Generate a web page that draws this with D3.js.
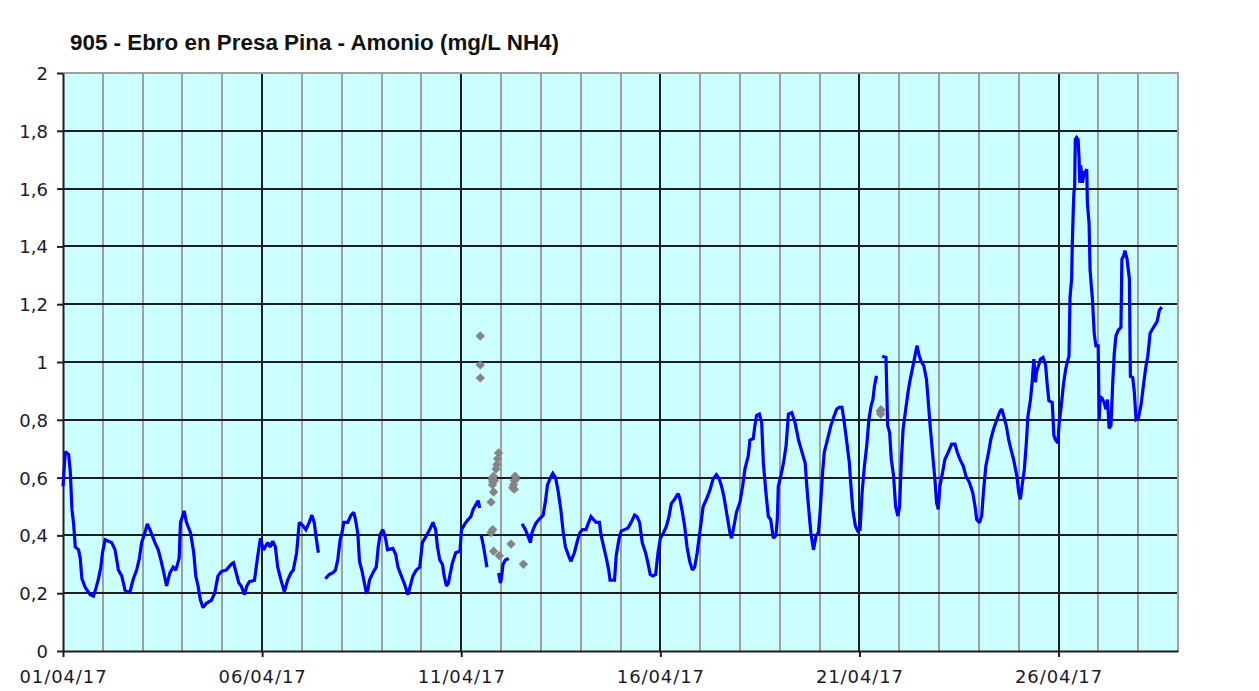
<!DOCTYPE html>
<html>
<head>
<meta charset="utf-8">
<script src="https://cdn.jsdelivr.net/npm/d3@7"></script>
<style>
  html, body { margin: 0; padding: 0; background: #ffffff; }
  svg { display: block; }
</style>
</head>
<body>
<svg id="chart" width="1259" height="691"></svg>
<script>
// ---------- DATA ----------
const chartTitle = "905 - Ebro en Presa Pina - Amonio (mg/L NH4)";
const startUTC = Date.UTC(2017, 3, 1);   // 01/04/17 00:00
const endUTC = Date.UTC(2017, 3, 29);    // 29/04/17 00:00

// hours since 01/04/17 00:00 ; null value = gap in the series
const lineHours = [
  0,1.4,3.4,4.4,5.4,6.4,7.4,9.4,10.4,11.4,13.4,16.4,18.4,20,21.4,22.8,23.8,25.4,27.4,29.4,
  31.4,33.4,35.4,37.4,40.4,42.4,44.4,46,47.4,49.4,50.8,52.4,55.4,57.4,58.8,60.8,62.4,64.4,66.4,68,
  70,70.8,72,73,74.4,76.8,78.8,80,81.4,82.8,84.4,86.4,89.4,91.4,93.4,95.4,98.4,101.4,102.8,104.4,
  106,107.4,109.4,110.8,112.4,115.4,117.4,119,120.8,123.4,124.8,126.4,128,129.4,131.4,133.4,135.4,137.4,138.8,140.8,
  142.4,144.4,146.4,148.4,150,151.4,152.4,153.9,156,
  158.1,160.5,162.5,164.2,165.6,167,168.2,169.2,171.6,173.6,175.2,176.3,177.7,178.7,180.3,181.3,182.7,183.7,184.7,186.7,
  188.8,190,191.2,192.8,194.4,195.6,198.8,200.5,201.9,203.9,205.9,207.9,209.3,210.9,212.9,215,216.6,218.6,221,223,
  224.6,225.7,227.1,228.7,229.7,231.1,232.3,233.1,234.7,236.7,239.2,240.2,242.2,244.2,245.8,247.2,249.2,250.3,251.1,251.6,
  252.1,253.5,254.5,255.5,259,
  262.6,263.6,264.2,265.2,266.6,268.6,272,
  276.7,278.7,280.1,281.7,282.7,284.8,286.8,289.4,290.8,292,293.8,295.2,296.9,298.5,300,301.5,302.8,304.7,306.1,308.2,
  310.2,311.6,313.2,315.2,316.8,318.2,319.7,321.3,323.3,324.3,326.3,327.7,328.9,329.7,332.4,333.4,335,336.4,338.4,340.4,
  342.4,344.5,345.9,347.5,349.1,351.1,352.5,353.9,355.5,357.2,358.6,360,362,363.6,365.2,366.6,368.6,370.7,371.7,373.3,
  374.7,376.1,377.7,379.3,380.7,382.2,383.8,385.8,387.8,389.8,391.8,393.8,395.5,396.9,398.3,399.9,401.9,402.9,404.3,405.9,
  408,409.6,411,413,414,416,417,418,419.7,421.1,422.1,423.7,425.1,426.5,428.1,429.7,430.5,431.1,432.6,434.2,
  435.8,437.2,439.2,441.2,443.3,445.3,447.3,448.3,449.3,450.7,452.3,453.9,455.3,456.3,457.8,458.8,460.8,462.8,464.8,466.3,
  467.9,469.5,470.3,471.9,473.9,474.9,476,477.6,479,480.4,481.6,483,484.4,485.7,487.1,488.1,489.1,490.1,491.1,492.4,
  493.7,496,497,498.2,499.2,500.6,501.8,503.2,504.2,505.3,506.3,507.9,509.3,510.3,511.9,513.3,514.7,516,517.4,518.8,
  520.4,521.4,522.8,524.4,525.5,526.5,527.5,528.5,530.1,531.5,533.5,535.6,537.6,539,540.6,542.6,544.2,546.3,548.3,549.7,
  550.7,552.3,553.7,554.7,556.2,557.8,559.2,560.8,562.8,564.8,565.9,566.9,568.5,569.9,571.3,572.9,574.9,576,577,578,
  579.4,580.6,581.5,583.1,584.1,585.1,586.1,586.7,588.1,589.1,590.7,592.2,593.2,594.2,596.2,597.2,598.2,599.6,600.4,601.7,
  602.9,604.3,605.3,606.3,606.9,607.9,608.3,608.9,609.3,609.7,610.1,610.9,611.8,612.4,612.8,613.4,614.4,615.4,616.4,617,
  617.4,618.4,619,619.8,620.4,621.5,622.5,623.9,624.5,625.1,626.1,627.5,628.5,629.5,630.5,631.6,632.6,633.6,634.6,636,
  637.6,638.2,639.2,640,641.3,642.7,643.3,644.7,645.7,646.7,648.1,649.7,651.4,652.8,653.8,655.2,656.2,657.8,659.4,660.8,
  662.3
];
const lineValues = [
  0.57,0.69,0.68,0.62,0.49,0.44,0.36,0.35,0.32,0.25,0.22,0.195,0.19,0.22,0.25,0.29,0.34,0.385,0.38,0.375,
  0.35,0.28,0.26,0.21,0.205,0.25,0.28,0.32,0.375,0.41,0.44,0.42,0.375,0.35,0.32,0.27,0.225,0.27,0.29,0.28,
  0.32,0.445,0.465,0.485,0.445,0.41,0.34,0.26,0.225,0.177,0.15,0.165,0.175,0.2,0.26,0.275,0.28,0.3,0.305,0.27,
  0.235,0.225,0.195,0.225,0.24,0.245,0.33,0.39,0.35,0.375,0.36,0.38,0.36,0.29,0.245,0.205,0.245,0.27,0.28,0.34,
  0.445,0.435,0.42,0.445,0.47,0.445,0.4,0.34,null,
  0.25,0.265,0.27,0.28,0.315,0.385,0.41,0.445,0.445,0.47,0.48,0.455,0.405,0.31,0.275,0.245,0.205,0.21,0.245,0.27,
  0.29,0.36,0.405,0.42,0.39,0.35,0.355,0.335,0.29,0.26,0.23,0.195,0.225,0.26,0.28,0.29,0.375,0.395,0.42,0.445,
  0.42,0.36,0.315,0.3,0.26,0.225,0.235,0.26,0.305,0.34,0.345,0.42,0.44,0.455,0.465,0.49,0.51,0.52,0.495,null,
  0.4,0.36,0.325,0.29,null,
  0.27,0.235,0.25,0.3,0.315,0.32,null,
  0.44,0.42,0.4,0.375,0.41,0.44,0.455,0.47,0.52,0.575,0.6,0.615,0.6,0.55,0.49,0.41,0.36,0.33,0.31,0.34,
  0.385,0.41,0.42,0.42,0.445,0.465,0.455,0.445,0.445,0.4,0.35,0.315,0.28,0.245,0.245,0.33,0.385,0.415,0.42,0.425,
  0.445,0.47,0.465,0.445,0.375,0.34,0.305,0.265,0.26,0.265,0.34,0.39,0.41,0.43,0.465,0.51,0.525,0.545,0.53,0.48,
  0.43,0.36,0.31,0.28,0.29,0.34,0.41,0.5,0.525,0.555,0.595,0.61,0.595,0.57,0.535,0.48,0.41,0.39,0.43,0.48,
  0.515,0.57,0.63,0.675,0.73,0.735,0.78,0.815,0.82,0.79,0.65,0.545,0.465,0.455,0.39,0.4,0.455,0.57,0.605,0.65,
  0.71,0.82,0.825,0.79,0.73,0.69,0.65,0.57,0.5,0.41,0.35,0.4,0.41,0.48,0.617,0.687,0.733,0.78,0.814,0.837,
  0.843,0.843,0.814,0.745,0.652,0.57,0.49,0.432,0.415,0.42,0.548,0.64,0.71,0.8,0.85,0.87,0.918,0.947,0.947,null,
  1.02,1.016,0.78,0.756,0.663,0.605,0.5,0.467,0.5,0.663,0.767,0.837,0.895,0.93,0.976,1.016,1.057,1.022,1.0,0.987,
  0.94,0.87,0.767,0.663,0.594,0.513,0.49,0.571,0.617,0.663,0.687,0.716,0.716,0.687,0.663,0.64,0.605,0.583,0.548,0.5,
  0.455,0.444,0.467,0.548,0.64,0.687,0.733,0.767,0.8,0.83,0.837,0.814,0.78,0.733,0.698,0.663,0.605,0.548,0.525,0.571,
  0.629,0.72,0.81,0.87,0.93,1.01,0.93,0.965,0.99,1.01,1.016,0.99,0.92,0.866,0.86,0.745,0.73,0.72,0.79,0.85,
  0.92,0.975,1.0,1.02,1.22,1.29,1.41,1.53,1.59,1.6,1.77,1.777,1.77,1.7,1.62,1.68,1.62,1.655,1.66,1.667,
  1.55,1.48,1.32,1.26,1.22,1.1,1.056,1.056,0.8,0.88,0.875,0.86,0.837,0.87,0.77,0.78,0.92,1.03,1.09,1.11,
  1.12,1.356,1.367,1.385,1.356,1.287,0.95,0.946,0.895,0.8,0.805,0.85,0.93,0.99,1.02,1.1,1.11,1.125,1.14,1.18,
  1.19
];

// grey diamond points (second series)
const dotHours = [251.5,251.5,251.5,262.5,262,261.5,261,259.5,258.5,259,260,258.8,259.5,258,259,258,259.5,263,270,
  272.5,272,271.5,271,272,273,277.5,492.5,492.8,493];
const dotValues = [1.09,0.99,0.945,0.685,0.665,0.645,0.63,0.605,0.595,0.585,0.59,0.575,0.55,0.515,0.42,0.41,0.345,0.33,0.37,
  0.605,0.59,0.575,0.565,0.56,0.595,0.3,0.83,0.82,0.835];

const xMajorDays = [0, 5, 10, 15, 20, 25];
const xTickLabels = ["01/04/17", "06/04/17", "11/04/17", "16/04/17", "21/04/17", "26/04/17"];
const yTickValues = [0, 0.2, 0.4, 0.6, 0.8, 1, 1.2, 1.4, 1.6, 1.8, 2];
const yTickLabels = ["0", "0,2", "0,4", "0,6", "0,8", "1", "1,2", "1,4", "1,6", "1,8", "2"];

// ---------- LAYOUT ----------
const W = 1259, H = 691;
const L = 63, R = 1178, T = 73, B = 651;
const HOUR = 3600 * 1000, DAY = 24 * HOUR;

const svg = d3.select("#chart");
const x = d3.scaleUtc().domain([new Date(startUTC), new Date(endUTC)]).range([L, R]);
const y = d3.scaleLinear().domain([0, 2]).range([B, T]);

const toDate = h => new Date(startUTC + h * HOUR);
const lineData = lineHours.map((h, i) => ({ t: toDate(h), v: lineValues[i] }));
const dotData = dotHours.map((h, i) => ({ t: toDate(h), v: dotValues[i] }));

// plot background
svg.append("rect").attr("x", L).attr("y", T).attr("width", R - L).attr("height", B - T)
  .attr("fill", "#ccffff");

// minor vertical grid (each day)
const allDays = d3.range(1, 28).filter(d => !xMajorDays.includes(d)).map(d => new Date(startUTC + d * DAY));
svg.append("g").selectAll("line").data(allDays).join("line")
  .attr("x1", d => Math.round(x(d))).attr("x2", d => Math.round(x(d)))
  .attr("y1", T).attr("y2", B)
  .attr("stroke", "#a0a0a0").attr("stroke-width", 2);

// horizontal grid
svg.append("g").selectAll("line").data(yTickValues.filter(v => v > 0 && v < 2)).join("line")
  .attr("x1", L).attr("x2", R)
  .attr("y1", d => Math.round(y(d))).attr("y2", d => Math.round(y(d)))
  .attr("stroke", "#1e1e1e").attr("stroke-width", 2);

// major vertical grid
svg.append("g").selectAll("line").data(xMajorDays.filter(d => d > 0).map(d => new Date(startUTC + d * DAY))).join("line")
  .attr("x1", d => Math.round(x(d))).attr("x2", d => Math.round(x(d)))
  .attr("y1", T).attr("y2", B)
  .attr("stroke", "#1e1e1e").attr("stroke-width", 2);

// top & right border (grey)
svg.append("path")
  .attr("d", `M${L},${T}H${R}V${B}`)
  .attr("fill", "none").attr("stroke", "#a0a0a0").attr("stroke-width", 2);

// axes
const xAxis = d3.axisBottom(x)
  .tickValues(xMajorDays.map(d => new Date(startUTC + d * DAY)))
  .tickFormat((d, i) => xTickLabels[i])
  .tickSize(6).tickSizeOuter(0).tickPadding(13);
const gx = svg.append("g").attr("transform", `translate(0,${B})`).call(xAxis);

const yAxis = d3.axisLeft(y)
  .tickValues(yTickValues)
  .tickFormat((d, i) => yTickLabels[i])
  .tickSize(6).tickSizeOuter(0).tickPadding(9);
const gy = svg.append("g").attr("transform", `translate(${L},0)`).call(yAxis);

[gx, gy].forEach(g => {
  g.select(".domain").attr("stroke", "#1e1e1e").attr("stroke-width", 2);
  g.selectAll(".tick line").attr("stroke", "#1e1e1e").attr("stroke-width", 2);
  g.selectAll(".tick text")
    .attr("fill", "#1a1a2a")
    .style("font-family", "'DejaVu Sans', Verdana, sans-serif")
    .style("font-size", "18px");
});
gx.selectAll(".tick text").style("letter-spacing", "0.9px");
gy.selectAll(".tick text").attr("dy", "0.36em");

// line series
const line = d3.line()
  .defined(d => d.v != null)
  .x(d => x(d.t)).y(d => y(d.v))
  .curve(d3.curveLinear);
svg.append("path").datum(lineData)
  .attr("d", line)
  .attr("fill", "none").attr("stroke", "#0000ff").attr("stroke-width", 3.2)
  .attr("stroke-linejoin", "miter").attr("stroke-miterlimit", 2);

// grey diamonds
const diamond = d3.symbol().type(d3.symbolSquare).size(44);
svg.append("g").selectAll("path").data(dotData).join("path")
  .attr("d", diamond)
  .attr("transform", d => `translate(${x(d.t)},${y(d.v)}) rotate(45)`)
  .attr("fill", "#858585");

// title
svg.append("text")
  .attr("x", 70).attr("y", 50)
  .style("font-family", "'Liberation Sans', Arial, sans-serif")
  .style("font-weight", "bold")
  .style("font-size", "22.4px")
  .attr("fill", "#111")
  .text(chartTitle);
</script>
</body>
</html>
